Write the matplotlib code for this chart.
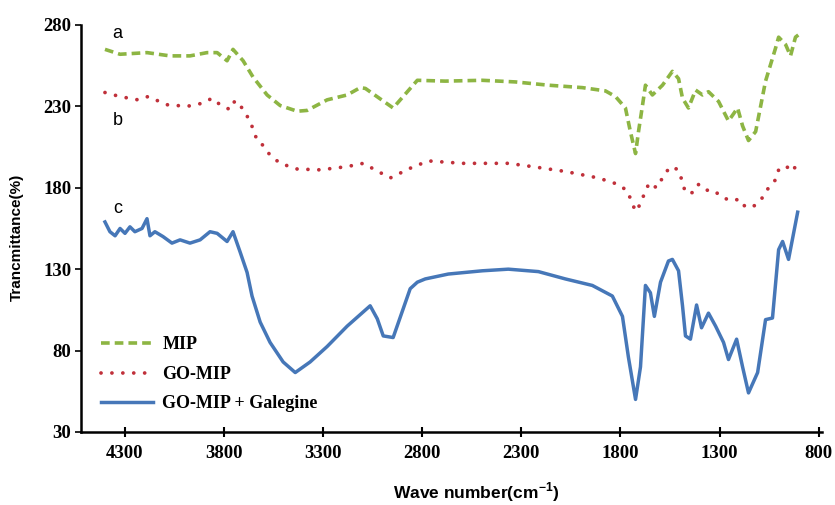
import matplotlib
matplotlib.use("Agg")
import matplotlib.pyplot as plt

# FTIR spectra: wavenumber (cm-1) vs transmittance (%)
mip_wn = [4401, 4325, 4189, 4073, 3972, 3886, 3835, 3785, 3755, 3704, 3654, 3583,
          3517, 3431, 3381, 3280, 3179, 3113, 3087, 2947, 2825, 2684, 2497, 2330,
          2164, 1992, 1876, 1825, 1775, 1750, 1724, 1709, 1689, 1674, 1639, 1588,
          1538, 1507, 1487, 1457, 1421, 1386, 1356, 1305, 1255, 1209, 1184, 1154,
          1118, 1068, 1017, 1002, 967, 942, 917, 901]
mip_t = [265, 262, 263, 261, 261, 263, 263, 258, 265, 258, 248, 237,
         230.5, 227, 227.5, 234, 237, 241.5, 241, 229, 246, 245.5, 246, 245,
         243, 241.5, 239.5, 236, 229, 214.5, 201, 214.5, 230.5, 243, 237, 243,
         251.5, 247, 235, 229, 240, 237, 239, 233, 221, 229, 218, 209,
         214.5, 245.5, 266, 272.5, 268, 261, 272.5, 274]

gomip_wn = [4401, 4325, 4234, 4184, 4088, 3987, 3906, 3861, 3820, 3770, 3745, 3709,
            3669, 3633, 3603, 3568, 3517, 3431, 3315, 3179, 3098, 2962, 2861, 2770,
            2598, 2366, 2245, 2078, 1911, 1810, 1765, 1744, 1724, 1694, 1679, 1654,
            1618, 1588, 1558, 1533, 1503, 1487, 1472, 1432, 1406, 1371, 1331, 1285,
            1240, 1199, 1169, 1124, 1083, 1053, 1017, 1002, 967, 932, 901]
gomip_t = [238.5, 236, 234, 236, 231, 230, 232, 235, 231, 228, 233.5, 229,
           221, 209, 206, 200, 195, 191.5, 191, 193, 195, 186, 192, 196.5,
           195, 195, 193, 190, 186, 182, 178, 171.5, 165.5, 171, 177, 183,
           180, 186, 191.5, 193, 190, 183, 177, 177, 182, 178.5, 178.5, 174,
           172, 173, 168, 169, 174, 180, 185, 191, 193.5, 190, 196.5]

gal_wn = [4401, 4376, 4350, 4325, 4300, 4275, 4250, 4214, 4189, 4174, 4149, 4108,
          4063, 4022, 3972, 3921, 3871, 3835, 3785, 3755, 3719, 3684, 3659, 3618,
          3568, 3502, 3441, 3366, 3280, 3179, 3063, 3027, 2997, 2947, 2861, 2825,
          2785, 2669, 2497, 2366, 2214, 2078, 1942, 1841, 1790, 1760, 1724, 1699,
          1674, 1649, 1629, 1598, 1558, 1538, 1507, 1487, 1472, 1447, 1416, 1391,
          1356, 1320, 1280, 1255, 1214, 1184, 1154, 1108, 1068, 1033, 1002, 982,
          952, 906]
gal_t = [159, 153, 150.5, 155, 152, 156, 153, 155, 161, 150.5, 153, 150,
         146, 148, 146, 148, 153, 152, 147, 153, 140.5, 128, 113.5, 97.5,
         85, 73, 66.5, 73, 82.5, 95, 107.5, 99.5, 89, 88, 118, 122,
         124, 127, 129, 130, 128.5, 124, 120, 113.5, 101, 76, 50, 70,
         120, 115.5, 101, 122, 135, 136, 129, 107.5, 89, 87, 108, 94,
         103, 95, 85, 74.5, 87, 70, 54, 66.5, 99, 100, 142, 147,
         136, 165]

series_names = ["MIP", "GO-MIP", "GO-MIP + Galegine"]
curve_tags = ["a", "b", "c"]
x_ticks = [4300, 3800, 3300, 2800, 2300, 1800, 1300, 800]
y_ticks = [30, 80, 130, 180, 230, 280]

GREEN = "#8db543"
RED = "#c0303a"
BLUE = "#4677b8"

fig = plt.figure(figsize=(8.35, 5.05), dpi=100)
ax = fig.add_axes([0.097, 0.1446, 0.887, 0.806])

l1, = ax.plot(mip_wn, mip_t, color=GREEN, lw=2.6, linestyle=(0, (2.4, 1.4)))
l2, = ax.plot(gomip_wn, gomip_t, color=RED, lw=2.7, linestyle=(0, (0.01, 2.9)),
              dash_capstyle="round")
l3, = ax.plot(gal_wn, gal_t, color=BLUE, lw=2.5, solid_joinstyle="round")

ax.set_xlim(4522, 785)
ax.set_ylim(30, 280)
ax.set_xticks(x_ticks)
ax.set_yticks(y_ticks)

serif = {"family": "Liberation Serif", "weight": "bold", "size": 13.5}
ax.set_xticklabels([str(v) for v in x_ticks], fontdict=serif)
ax.set_yticklabels([str(v) for v in y_ticks], fontdict=serif)

for side in ("top", "right"):
    ax.spines[side].set_visible(False)
for side in ("left", "bottom"):
    ax.spines[side].set_linewidth(1.8)
    ax.spines[side].set_color("black")

ax.tick_params(axis="x", direction="inout", length=7, width=1.5, pad=6, colors="black")
ax.tick_params(axis="y", direction="out", length=4, width=1.2, pad=3, colors="black")

ax.set_xlabel("Wave number(cm$^{\\mathregular{-1}}$)", family="Liberation Sans",
              weight="bold", size=12.5)
ax.xaxis.set_label_coords(0.533, -0.147)
ax.xaxis.label.set_va("center")
ax.set_ylabel("Trancmittance(%)", family="Liberation Sans", weight="bold", size=11)
ax.yaxis.set_label_coords(-0.077, 0.477)

tag_pos = [(4340, 275), (4335, 221.5), (4335, 167.5)]
for tag, (xw, yt) in zip(curve_tags, tag_pos):
    ax.text(xw, yt, tag, family="Liberation Sans", size=13, ha="center", va="center")

leg = ax.legend([l1, l2, l3], series_names, loc="lower left",
                bbox_to_anchor=(0.005, 0.008), frameon=False,
                prop={"family": "Liberation Serif", "weight": "bold", "size": 13},
                handlelength=2.9, handletextpad=0.5, labelspacing=0.7)

fig.savefig("out.png", dpi=100)
